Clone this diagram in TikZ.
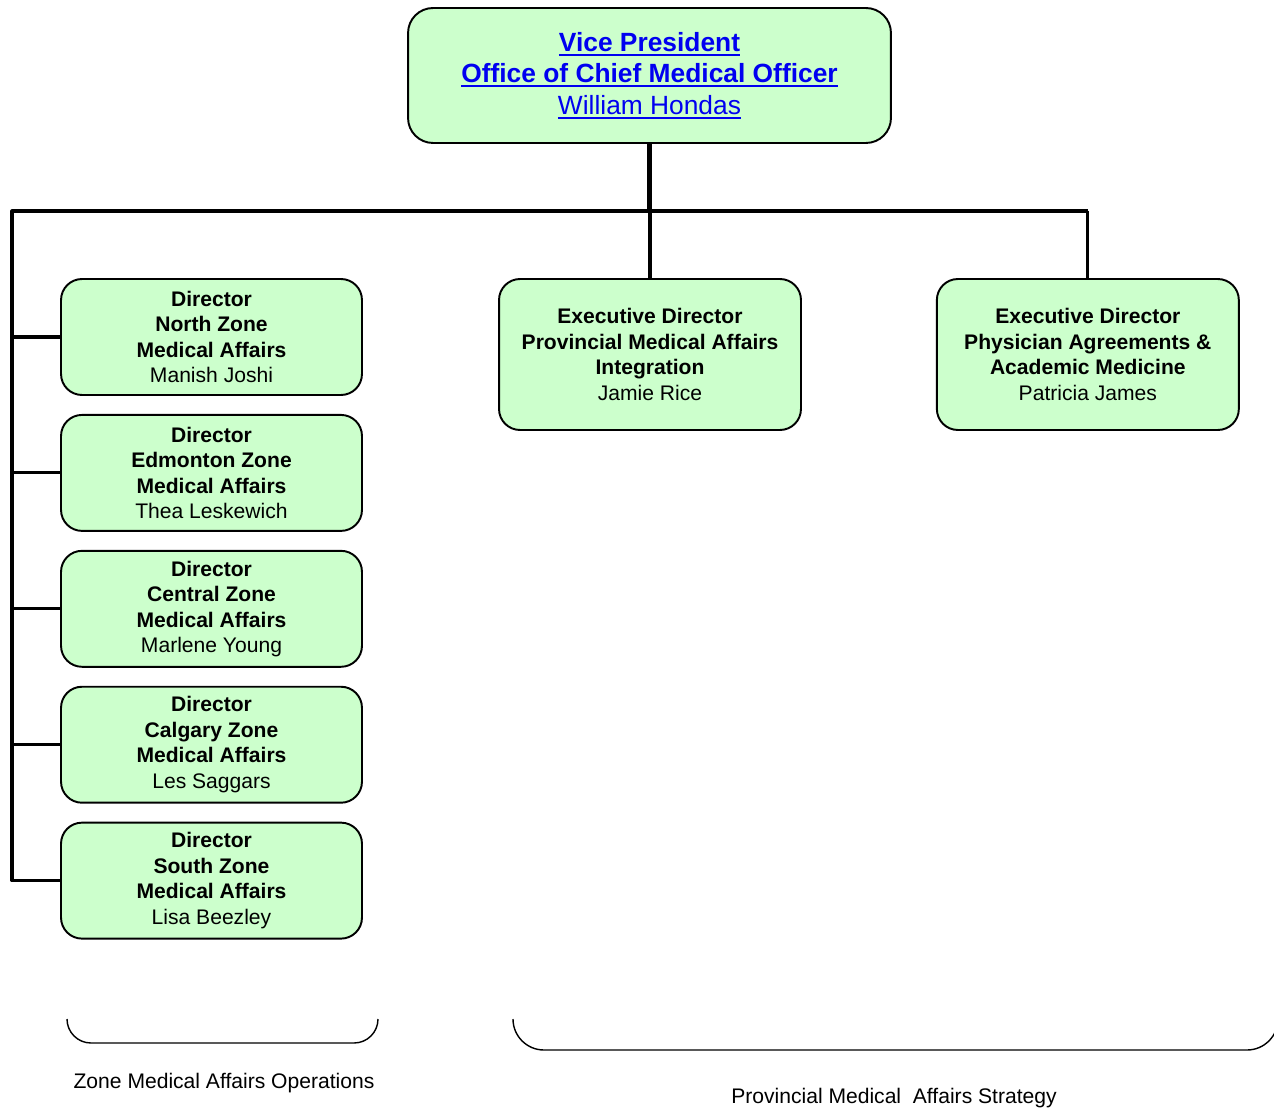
\documentclass[tikz,border=0pt]{standalone}
\usepackage{fontspec}
\setmainfont{Liberation Sans}
\usepackage{xcolor}
\usetikzlibrary{positioning}
\usetikzlibrary{calc}

\definecolor{BoxGreen}{HTML}{CCFFCC}
\definecolor{LinkBlue}{HTML}{0000F0}

% underline as in the linked title
\newcommand{\linkul}[1]{\setbox0\hbox{#1}\rlap{\rule[-2.4pt]{\wd0}{1pt}}\box0}

\tikzset{
	OrgBox/.style={draw, line width=1.1pt, fill=BoxGreen, rounded corners=0.42cm,
		align=center, inner sep=0pt, font=\fontsize{12}{14.5}\selectfont},
	ZoneBox/.style={OrgBox, minimum width=6.02cm, minimum height=2.32cm},
	ExecBox/.style={OrgBox, minimum width=6.04cm, minimum height=3.02cm},
	Bus/.style={line width=1.8pt},
	Brace/.style={line width=0.8pt},
	Caption/.style={font=\fontsize{12}{14.5}\selectfont, inner sep=0pt},
}

\begin{document}
\begin{tikzpicture}[x=0.02cm, y=-0.02cm]
	
	\useasboundingbox (0,0) rectangle (1274,1111);
	
	% ---------------------
	% Vice President
	\node[OrgBox, minimum width=9.66cm, minimum height=2.7cm, rounded corners=0.5cm,
		font=\fontsize{15}{18}\selectfont, text=LinkBlue] (VicePresident) at (649.5,75.5)
		{\linkul{\textbf{Vice President}}\\\linkul{\textbf{Office of Chief Medical Officer}}\\\linkul{William Hondas}};
	
	% ---------------------
	% Zone directors
	\node[ZoneBox] (NorthZone) at (211.5,337)
		{\textbf{Director}\\\textbf{North Zone}\\\textbf{Medical Affairs}\\Manish Joshi};
	\node[ZoneBox, below=0.36cm of NorthZone] (EdmontonZone)
		{\textbf{Director}\\\textbf{Edmonton Zone}\\\textbf{Medical Affairs}\\Thea Leskewich};
	\node[ZoneBox, below=0.36cm of EdmontonZone] (CentralZone)
		{\textbf{Director}\\\textbf{Central Zone}\\\textbf{Medical Affairs}\\Marlene Young};
	\node[ZoneBox, below=0.36cm of CentralZone] (CalgaryZone)
		{\textbf{Director}\\\textbf{Calgary Zone}\\\textbf{Medical Affairs}\\Les Saggars};
	\node[ZoneBox, below=0.36cm of CalgaryZone] (SouthZone)
		{\textbf{Director}\\\textbf{South Zone}\\\textbf{Medical Affairs}\\Lisa Beezley};
	
	% ---------------------
	% Executive directors
	\node[ExecBox] (Integration) at (650,354.5)
		{\textbf{Executive Director}\\\textbf{Provincial Medical Affairs}\\\textbf{Integration}\\Jamie Rice};
	\node[ExecBox, right=2.68cm of Integration] (Physician)
		{\textbf{Executive Director}\\\textbf{Physician Agreements \&}\\\textbf{Academic Medicine}\\Patricia James};
	
	% ---------------------
	% Bus lines
	\coordinate (BusLeft) at (12,211);
	\coordinate (BusRight) at (Physician.north |- BusLeft);
	
	\draw[line width=2.6pt] (VicePresident.south) -- (VicePresident.south |- BusLeft);
	\draw[Bus, line join=round] (BusRight) -- (BusLeft) |- (SouthZone.west);
	\draw[Bus] (BusRight) -- (Physician.north);
	\draw[Bus] (Integration.north |- BusLeft) -- (Integration.north);
	
	\draw[Bus] (BusLeft |- NorthZone.west) -- (NorthZone.west);
	\draw[Bus] (BusLeft |- EdmontonZone.west) -- (EdmontonZone.west);
	\draw[Bus] (BusLeft |- CentralZone.west) -- (CentralZone.west);
	\draw[Bus] (BusLeft |- CalgaryZone.west) -- (CalgaryZone.west);
	
	% ---------------------
	% Braces & captions
	\coordinate (ZoneBraceL) at (67,1019);
	\path (ZoneBraceL) +(311,0) coordinate (ZoneBraceR);
	\draw[Brace, rounded corners=0.48cm] (ZoneBraceL) -- ++(0,24) -| (ZoneBraceR);
	
	\coordinate (StrategyBraceL) at (513,1019);
	\path (StrategyBraceL) +(765,0) coordinate (StrategyBraceR);
	\draw[Brace, rounded corners=0.62cm] (StrategyBraceL) -- ++(0,31) -| (StrategyBraceR);
	
	\node[Caption] (ZoneLabel) at (224,1083) {Zone Medical Affairs Operations};
	\node[Caption] (StrategyLabel) at (894,1098) {Provincial Medical\ \ Affairs Strategy};
	
\end{tikzpicture}
\end{document}
